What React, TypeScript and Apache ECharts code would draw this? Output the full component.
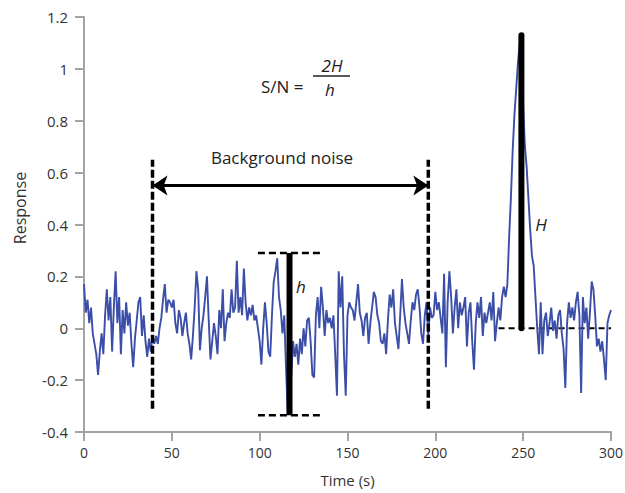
import { useEffect, useRef } from "react";
import * as echarts from "echarts";

// Time axis (s), 1 s sampling
const timeSec: number[] = Array.from({ length: 301 }, (_, i) => i);

// Detector response, one value per second (t = 0 .. 300)
const response: number[] = [
  0.17, 0.06, 0.11, 0.02, 0.08, -0.02, -0.06, -0.1, -0.18, -0.09,
  -0.02, -0.1, 0.05, 0.15, 0.03, 0.12, -0.09, 0.08, 0.22, 0.02,
  0.12, -0.1, 0.07, -0.02, 0.1, 0.01, 0.06, -0.06, -0.15, -0.04,
  0.03, 0.1, 0.12, -0.03, 0.05, -0.05, -0.11, -0.04, -0.09, -0.03,
  -0.06, -0.03, -0.06, 0.0, 0.04, 0.11, 0.17, 0.06, 0.11, 0.1,
  0.08, 0.11, 0.02, -0.02, 0.07, 0.04, -0.03, 0.02, 0.06, -0.02,
  -0.06, -0.12, -0.03, 0.08, 0.22, 0.15, -0.085, 0.0, 0.05, 0.12,
  0.2, 0.03, -0.12, -0.05, 0.02, -0.03, -0.1, 0.07, 0.0, 0.15,
  -0.05, 0.02, 0.06, 0.04, 0.15, 0.06, 0.08, 0.26, 0.06, 0.12,
  0.05, 0.23, 0.1, 0.03, 0.08, 0.05, 0.09, 0.03, 0.05, 0.0,
  -0.05, -0.14, 0.0, 0.1, 0.02, -0.09, -0.11, 0.05, 0.18, 0.22,
  0.27, 0.12, 0.07, -0.02, 0.05, -0.15, -0.33, -0.25, -0.18, -0.05,
  -0.11, -0.06, -0.14, -0.04, -0.1, 0.0, -0.07, 0.03, 0.04, -0.05,
  -0.18, -0.19, 0.05, 0.12, 0.0, 0.16, 0.08, -0.03, 0.07, 0.02,
  0.04, 0.0, 0.05, -0.1, -0.26, 0.22, 0.08, 0.2, -0.1, -0.26,
  0.05, 0.1, 0.08, 0.07, 0.03, 0.1, 0.17, 0.06, 0.03, -0.03,
  0.04, 0.06, -0.06, 0.02, 0.08, 0.14, 0.12, 0.05, 0.02, -0.05,
  -0.06, -0.02, -0.1, 0.03, 0.13, 0.08, 0.15, 0.02, -0.03, -0.08,
  0.05, 0.19, 0.08, 0.02, -0.02, -0.06, 0.03, 0.1, 0.07, 0.13,
  0.15, 0.08, -0.02, -0.06, 0.05, 0.1, -0.03, 0.08, 0.04, 0.05,
  0.14, 0.07, 0.1, 0.04, -0.02, 0.21, -0.15, 0.1, 0.22, 0.12,
  -0.02, 0.08, 0.15, 0.0, 0.1, 0.05, 0.08, 0.12, -0.07, 0.06,
  0.1, -0.05, -0.16, 0.02, 0.1, 0.04, 0.12, -0.03, 0.06, 0.02,
  0.06, 0.1, 0.03, 0.14, -0.05, 0.02, 0.08, 0.03, 0.12, 0.16,
  0.12, 0.17, 0.35, 0.5, 0.68, 0.82, 0.92, 1.02, 1.1, 1.12,
  0.85, 0.7, 0.62, 0.5, 0.38, 0.28, 0.24, 0.12, 0.0, -0.1,
  0.1, -0.1, 0.03, 0.06, -0.03, 0.02, 0.08, -0.01, 0.03, -0.04,
  0.05, 0.07, -0.02, -0.08, -0.23, 0.02, 0.1, 0.04, 0.08, 0.03,
  0.1, 0.14, 0.05, -0.25, 0.12, 0.02, 0.08, -0.04, 0.06, 0.18,
  0.15, 0.05, -0.07, -0.04, -0.09, -0.05, -0.12, -0.2, 0.02, 0.05,
  0.07,
];

// Axis ticks
const xTicks: number[] = [0, 50, 100, 150, 200, 250, 300];
const yTicks: number[] = [-0.4, -0.2, 0, 0.2, 0.4, 0.6, 0.8, 1, 1.2];

// Annotation values (data coordinates)
const noiseWindow: number[] = [39, 196]; // start, end of background noise window (s)
const noiseDashRange: number[] = [-0.31, 0.65]; // vertical extent of dashed window lines
const arrowLevel = 0.55;
const hBarTime = 117;
const hRange: number[] = [-0.335, 0.29]; // noise peak-to-peak
const hGuideSpan: number[] = [99, 136];
const HBarTime = 249;
const HRange: number[] = [0, 1.13];
const baselineSpan: number[] = [236, 300];

const FONT = "'Open Sans', 'Noto Sans', sans-serif";

export default function App() {
  const ref = useRef<HTMLDivElement>(null);

  useEffect(() => {
    if (!ref.current) return;
    const chart = echarts.init(ref.current, undefined, { renderer: "svg" });

    const seg = (x1: number, y1: number, x2: number, y2: number) => [
      [x1, y1],
      [x2, y2],
    ];
    const annoLine = (data: number[][], width: number, dash: any, z: number, cap = "butt") => ({
      type: "line",
      data,
      symbol: "none",
      silent: true,
      z,
      lineStyle: { color: "#000", width, type: dash, cap },
      emphasis: { disabled: true },
    });

    const option: any = {
      animation: false,
      textStyle: { fontFamily: FONT },
      grid: { left: 84, right: 14, top: 17, bottom: 61, containLabel: false, outerBoundsMode: "none" },
      xAxis: {
        type: "value",
        min: xTicks[0],
        max: xTicks[xTicks.length - 1],
        interval: xTicks[1] - xTicks[0],
        name: "Time (s)",
        nameLocation: "middle",
        nameGap: 40,
        nameTextStyle: { color: "#333", fontSize: 15, fontFamily: FONT },
        axisLine: { show: true, onZero: false, lineStyle: { color: "#a3a3a3", width: 2 } },
        axisTick: { show: true, length: 9, lineStyle: { color: "#a3a3a3", width: 2 } },
        axisLabel: { color: "#333", fontSize: 14, margin: 13, fontFamily: FONT },
        splitLine: { show: false },
      },
      yAxis: {
        type: "value",
        min: yTicks[0],
        max: yTicks[yTicks.length - 1],
        interval: 0.2,
        axisLine: { show: true, onZero: false, lineStyle: { color: "#a3a3a3", width: 2 } },
        axisTick: { show: true, length: 9, lineStyle: { color: "#a3a3a3", width: 2 } },
        axisLabel: { color: "#333", fontSize: 15, margin: 16, fontFamily: FONT },
        splitLine: { show: false },
      },
      series: [
        annoLine(seg(baselineSpan[0], 0, baselineSpan[1], 0), 2, [6, 4], 1),
        {
          type: "line",
          data: timeSec.map((t, i) => [t, response[i]]),
          showSymbol: false,
          symbol: "none",
          silent: true,
          z: 2,
          lineStyle: { color: "#3b4ea8", width: 1.9 },
          emphasis: { disabled: true },
        },
        annoLine(seg(noiseWindow[0], noiseDashRange[0], noiseWindow[0], noiseDashRange[1]), 3.5, [8, 3], 5),
        annoLine(seg(noiseWindow[1], noiseDashRange[0], noiseWindow[1], noiseDashRange[1]), 3.5, [8, 3], 5),
        annoLine(seg(hGuideSpan[0], hRange[1], hGuideSpan[1], hRange[1]), 2.5, [7, 4], 5),
        annoLine(seg(hGuideSpan[0], hRange[0], hGuideSpan[1], hRange[0]), 2.5, [7, 4], 5),
        annoLine(seg(hBarTime, hRange[0], hBarTime, hRange[1]), 6, "solid", 6),
        annoLine(seg(HBarTime, HRange[0], HBarTime, HRange[1]), 6, "solid", 6, "round"),
        {
          type: "line",
          data: [],
          silent: true,
          z: 6,
          markLine: {
            silent: true,
            symbol: ["arrow", "arrow"],
            symbolSize: [15, 15],
            label: { show: false },
            emphasis: { disabled: true },
            lineStyle: { color: "#000", width: 3, type: "solid" },
            data: [[{ coord: [noiseWindow[0], arrowLevel] }, { coord: [noiseWindow[1], arrowLevel] }]],
          },
        },
      ],
      graphic: [
        {
          type: "text",
          x: 20,
          y: 208,
          rotation: Math.PI / 2,
          style: { text: "Response", font: `16px ${FONT}`, fill: "#333", align: "center", verticalAlign: "middle" },
        },
        {
          type: "text",
          x: 282,
          y: 157,
          style: { text: "Background noise", font: `17px ${FONT}`, fill: "#222", align: "center", verticalAlign: "middle" },
        },
        {
          type: "text",
          x: 261,
          y: 86,
          style: { text: "S/N =", font: `17px ${FONT}`, fill: "#222", align: "left", verticalAlign: "middle" },
        },
        {
          type: "text",
          x: 332,
          y: 65,
          style: { text: "2H", font: `italic 17px ${FONT}`, fill: "#222", align: "center", verticalAlign: "middle" },
        },
        {
          type: "line",
          shape: { x1: 313, y1: 76, x2: 350, y2: 76 },
          style: { stroke: "#222", lineWidth: 1.5 },
        },
        {
          type: "text",
          x: 330,
          y: 89,
          style: { text: "h", font: `italic 17px ${FONT}`, fill: "#222", align: "center", verticalAlign: "middle" },
        },
        {
          type: "text",
          x: 301,
          y: 286,
          style: { text: "h", font: `italic 17px ${FONT}`, fill: "#222", align: "center", verticalAlign: "middle" },
        },
        {
          type: "text",
          x: 541,
          y: 224,
          style: { text: "H", font: `italic 17px ${FONT}`, fill: "#222", align: "center", verticalAlign: "middle" },
        },
      ],
    };

    chart.setOption(option);
    return () => chart.dispose();
  }, []);

  return (
    <div
      ref={ref}
      style={{ position: "fixed", left: 0, top: 0, width: 625, height: 493, background: "#fff" }}
    />
  );
}
